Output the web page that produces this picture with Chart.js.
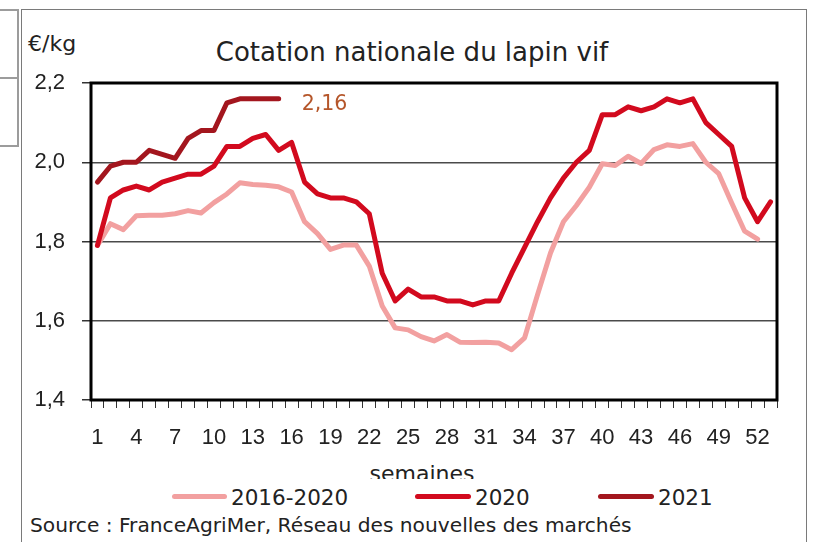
<!DOCTYPE html>
<html>
<head>
<meta charset="utf-8">
<script src="https://cdn.jsdelivr.net/npm/chart.js@4"></script>
<style>
  html, body { margin: 0; padding: 0; background: #fff; }
  body { width: 816px; height: 542px; position: relative; overflow: hidden; font-family: 'DejaVu Sans', sans-serif; color: #222; }
  .abs { position: absolute; white-space: nowrap; line-height: 1; }
  #frame { position: absolute; left: 21px; top: 9px; width: 784px; height: 600px; border: 1.5px solid #7a7a7a; }
  #sidebox { position: absolute; left: -3px; top: 9px; width: 18px; height: 134px; border: 2px solid #9c9c9c; }
  #sideline { position: absolute; left: 0; top: 77px; width: 17px; height: 2px; background: #9c9c9c; }
  #c { position: absolute; left: 0; top: 0; }
  .swatch { position: absolute; height: 5px; border-radius: 3px; }
</style>
</head>
<body>
<div id="frame"></div>
<div id="sidebox"></div>
<div id="sideline"></div>

<div class="abs" style="left:28px; top:33px; font-size:22px;">€/kg</div>
<div class="abs" style="left:412px; top:39px; font-size:26px; transform:translateX(-50%);">Cotation nationale du lapin vif</div>
<div class="abs" style="left:422px; top:463px; font-size:22px; height:16px; overflow:hidden; transform:translateX(-50%);">semaines</div>

<div class="swatch" style="left:172px; top:494px; width:55px; background:#f2a0a0;"></div>
<div class="abs" style="left:231px; top:487px; font-size:21.5px;">2016-2020</div>
<div class="swatch" style="left:415px; top:494px; width:56px; background:#d20a1e;"></div>
<div class="abs" style="left:475px; top:487px; font-size:21.5px;">2020</div>
<div class="swatch" style="left:598px; top:494px; width:56px; background:#a3161e;"></div>
<div class="abs" style="left:658px; top:487px; font-size:21.5px;">2021</div>

<div class="abs" style="left:30px; top:515px; font-size:20.2px;">Source : FranceAgriMer, Réseau des nouvelles des marchés</div>

<canvas id="c" width="816" height="542"></canvas>

<script>
// semaines 1 à 53
const weeks = [1, 2, 3, 4, 5, 6, 7, 8, 9, 10, 11, 12, 13, 14, 15, 16, 17, 18, 19, 20,
  21, 22, 23, 24, 25, 26, 27, 28, 29, 30, 31, 32, 33, 34, 35, 36, 37, 38, 39, 40,
  41, 42, 43, 44, 45, 46, 47, 48, 49, 50, 51, 52, 53];

// moyenne 2016-2020 (€/kg)
const avg2016_2020 = [1.79, 1.845, 1.83, 1.865, 1.866, 1.866, 1.87, 1.878, 1.872, 1.898,
  1.92, 1.948, 1.944, 1.942, 1.938, 1.925, 1.85, 1.82, 1.78, 1.791,
  1.791, 1.738, 1.637, 1.582, 1.577, 1.56, 1.549, 1.565, 1.546, 1.545,
  1.546, 1.544, 1.527, 1.557, 1.666, 1.771, 1.85, 1.891, 1.937, 1.996,
  1.992, 2.015, 1.997, 2.032, 2.044, 2.04, 2.047, 2.0, 1.971, 1.897,
  1.826, 1.806];

const rates2020 = [1.79, 1.91, 1.93, 1.94, 1.93, 1.95, 1.96, 1.97, 1.97, 1.99,
  2.04, 2.04, 2.06, 2.07, 2.03, 2.05, 1.95, 1.92, 1.91, 1.91,
  1.90, 1.87, 1.72, 1.65, 1.68, 1.66, 1.66, 1.65, 1.65, 1.64,
  1.65, 1.65, 1.72, 1.785, 1.85, 1.91, 1.96, 2.00, 2.03, 2.12,
  2.12, 2.14, 2.13, 2.14, 2.16, 2.15, 2.16, 2.10, 2.07, 2.04,
  1.91, 1.85, 1.90];

const rates2021 = [1.95, 1.99, 2.00, 2.00, 2.03, 2.02, 2.01, 2.06, 2.08, 2.08,
  2.15, 2.16, 2.16, 2.16, 2.16];

const yTicks = [1.4, 1.6, 1.8, 2.0, 2.2];

const tickFont = { family: "'Liberation Sans', sans-serif", size: 22 };

// cadre noir autour de la zone de tracé + étiquette de la dernière valeur 2021
const framePlugin = {
  id: 'framePlugin',
  afterDatasetsDraw(chart) {
    const { ctx, chartArea } = chart;
    ctx.save();
    ctx.strokeStyle = '#000';
    ctx.lineWidth = 3;
    ctx.strokeRect(chartArea.left, chartArea.top, chartArea.right - chartArea.left, chartArea.bottom - chartArea.top);

    const meta = chart.getDatasetMeta(2);
    const last = meta.data[rates2021.length - 1];
    ctx.fillStyle = '#b5562a';
    ctx.font = "20.5px 'DejaVu Sans', sans-serif";
    ctx.textBaseline = 'alphabetic';
    ctx.textAlign = 'left';
    ctx.fillText(rates2021[rates2021.length - 1].toFixed(2).replace('.', ','), last.x + 23, last.y + 11.5);
    ctx.restore();
  }
};

const data = {
  labels: weeks,
  datasets: [{
    label: '2016-2020',
    data: avg2016_2020,
    borderColor: '#f2a0a0',
    backgroundColor: '#f2a0a0',
    order: 3
  }, {
    label: '2020',
    data: rates2020,
    borderColor: '#d20a1e',
    backgroundColor: '#d20a1e',
    order: 2
  }, {
    label: '2021',
    data: rates2021,
    borderColor: '#a3161e',
    backgroundColor: '#a3161e',
    order: 1
  }]
};

const config = {
  type: 'line',
  data: data,
  options: {
    responsive: false,
    devicePixelRatio: 1,
    animation: false,
    layout: { padding: { top: 83, right: 39, left: 0, bottom: 0 } },
    elements: {
      line: { borderWidth: 5, tension: 0, borderCapStyle: 'round', borderJoinStyle: 'round' },
      point: { radius: 0 }
    },
    plugins: {
      legend: { display: false },
      tooltip: { enabled: false }
    },
    scales: {
      x: {
        type: 'category',
        offset: true,
        border: { display: false },
        grid: { offset: true, drawOnChartArea: false, drawTicks: true, tickLength: 8, tickColor: '#333', tickWidth: 1 },
        ticks: {
          autoSkip: false,
          maxRotation: 0,
          padding: 17,
          color: '#222',
          font: tickFont,
          callback: (v, i) => (i % 3 === 0 ? String(weeks[i]) : '')
        },
        afterFit: scale => { scale.height = 142; }
      },
      y: {
        min: 1.4,
        max: 2.2,
        border: { display: false },
        grid: { color: '#4a4a4a', lineWidth: 1.5, tickLength: 9, tickColor: '#333', tickWidth: 1.5 },
        afterBuildTicks: scale => { scale.ticks = yTicks.map(v => ({ value: v })); },
        ticks: {
          padding: 17,
          color: '#222',
          font: tickFont,
          callback: v => v.toFixed(1).replace('.', ',')
        },
        afterFit: scale => { scale.width = 91; }
      }
    }
  },
  plugins: [framePlugin]
};

const cotationChart = new Chart(document.getElementById('c'), config);
</script>
</body>
</html>
